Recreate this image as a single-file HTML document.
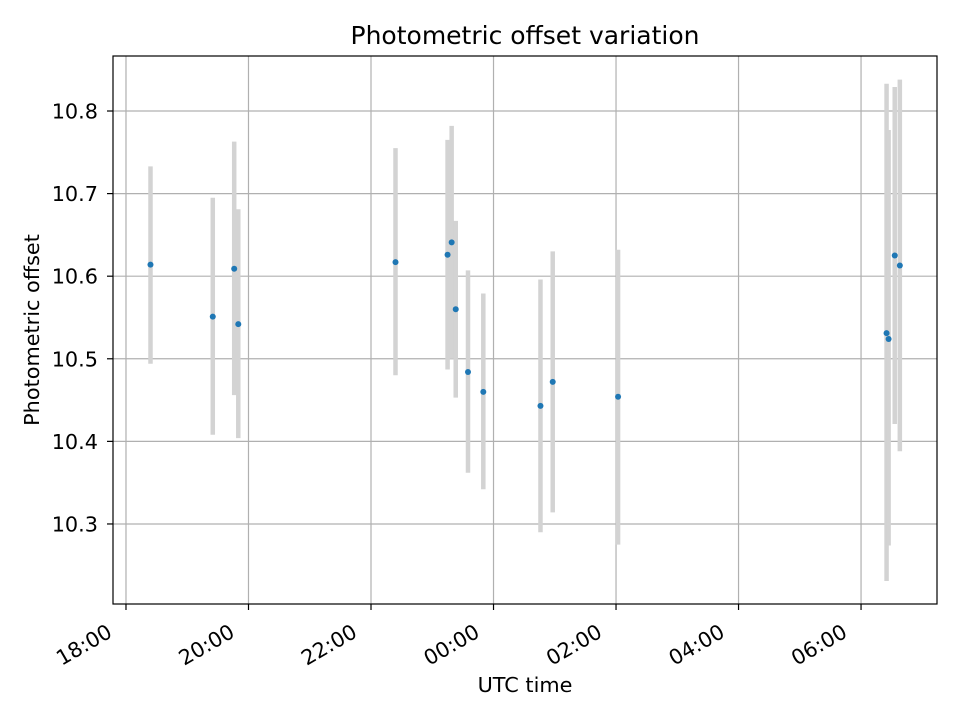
<!DOCTYPE html>
<html><head><meta charset="utf-8"><style>
body{margin:0;background:#fff;}
svg text{font-family:"DejaVu Sans","Liberation Sans",sans-serif;fill:#000;}
</style></head><body>
<svg id="chart" width="960" height="720">
<text x="525" y="44" font-size="25" text-anchor="middle">Photometric offset variation</text>
<g id="grid"></g><g id="errs"></g><g id="pts"></g><g id="xticks"></g><g id="yticks"></g>
<rect x="113" y="56" width="824" height="548" fill="none" stroke="#000" stroke-width="1.2"/>
<text x="525" y="692" font-size="20.8" text-anchor="middle">UTC time</text>
<text transform="translate(39,330) rotate(-90)" font-size="20.8" text-anchor="middle">Photometric offset</text>
</svg>
<script>
const times=["18:24","19:25","19:46","19:50","22:24","23:15","23:19","23:23","23:35","23:50","00:46","00:58","02:02","06:25","06:27","06:33","06:38"];
const values=[10.614,10.551,10.609,10.542,10.617,10.626,10.641,10.560,10.484,10.460,10.443,10.472,10.454,10.531,10.524,10.625,10.613];
const errHigh=[10.733,10.695,10.763,10.681,10.755,10.765,10.782,10.667,10.607,10.579,10.596,10.630,10.632,10.833,10.777,10.829,10.838];
const errLow=[10.494,10.408,10.456,10.404,10.480,10.487,10.500,10.453,10.362,10.342,10.290,10.314,10.275,10.231,10.274,10.421,10.388];
const xTickLabels=["18:00","20:00","22:00","00:00","02:00","04:00","06:00"];
const yTickValues=[10.3,10.4,10.5,10.6,10.7,10.8];
const NS="http://www.w3.org/2000/svg";
function hrs(t){let [h,m]=t.split(":").map(Number);h=h-18;if(h<0)h+=24;return h+m/60;}
const X0=113,X1=937,Y0=56,Y1=604,xmin=-0.212,xmax=13.24,ymin=10.2031,ymax=10.8666;
function xs(h){return X0+(h-xmin)/(xmax-xmin)*(X1-X0);}
function ys(v){return Y1-(v-ymin)/(ymax-ymin)*(Y1-Y0);}
function mk(tag,attrs,parent){const e=document.createElementNS(NS,tag);for(const k in attrs)e.setAttribute(k,attrs[k]);document.getElementById(parent).appendChild(e);return e;}
xTickLabels.forEach((l,i)=>{const x=xs(hrs(l));
 let g=mk("line",{x1:x,x2:x,y1:Y0,y2:Y1,stroke:"#b0b0b0","stroke-width":1.2},"grid");
 
 
 let t=mk("line",{x1:x,x2:x,y1:Y1,y2:Y1+6,stroke:"#000","stroke-width":1.2},"xticks");
 
 
 const bx=x-12.5,by=636;
 let tx=mk("text",{x:bx,y:by,"font-size":20.8,"text-anchor":"end",transform:`rotate(-30 ${bx} ${by})`},"xticks");
 tx.textContent=l;
 
 
});
yTickValues.forEach(v=>{const y=ys(v);
 let g=mk("line",{x1:X0,x2:X1,y1:y,y2:y,stroke:"#b0b0b0","stroke-width":1.2},"grid");
 
 
 let t=mk("line",{x1:X0-6,x2:X0,y1:y,y2:y,stroke:"#000","stroke-width":1.2},"yticks");
 
 
 let tx=mk("text",{x:X0-15,y:y+7.5,"font-size":20.8,"text-anchor":"end"},"yticks");
 tx.textContent=v.toFixed(1);
 
 
});
times.forEach((t,i)=>{const x=xs(hrs(t));
 let e=mk("line",{x1:x,x2:x,y1:ys(errHigh[i]),y2:ys(errLow[i]),stroke:"#d3d3d3","stroke-width":4.5},"errs");
 
 
 let c=mk("circle",{cx:x,cy:ys(values[i]),r:3,fill:"#1f77b4"},"pts");
 
 
});
</script>
</body></html>
